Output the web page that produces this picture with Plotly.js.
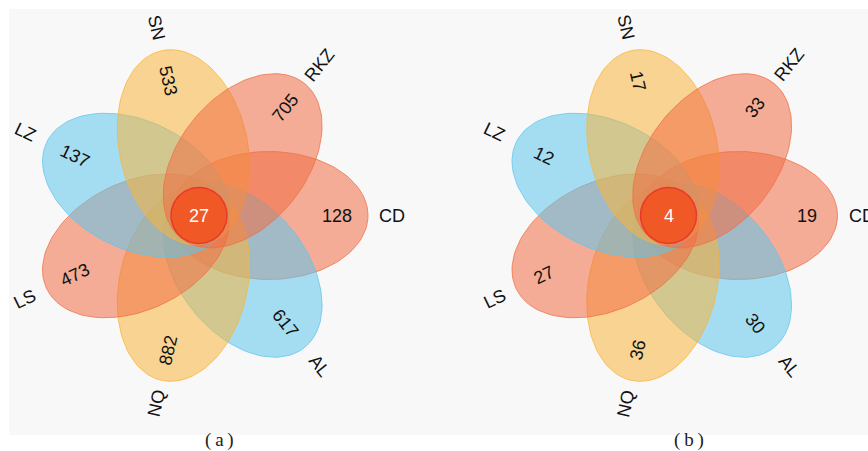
<!DOCTYPE html>
<html>
<head>
<meta charset="utf-8">
<script src="https://cdn.plot.ly/plotly-3.0.1.min.js"></script>
<style>html,body{margin:0;padding:0;background:#fff;}#chart{width:868px;height:451px;}</style>
</head>
<body>
<div id="chart"></div>
<script>
// ---- data ----
const sets = ['CD', 'RKZ', 'SN', 'LZ', 'LS', 'NQ', 'AL'];
const valuesA = [128, 705, 533, 137, 473, 882, 617];
const valuesB = [19, 33, 17, 12, 27, 36, 30];
const coreA = 27;
const coreB = 4;
const panelCaptions = ['(a)', '(b)'];

// ---- styling / geometry (not data) ----
const petalRGB = {
  CD: [240, 110, 70], RKZ: [240, 110, 70], LS: [240, 110, 70],
  SN: [248, 180, 60], NQ: [248, 180, 60],
  LZ: [95, 198, 236], AL: [95, 198, 236]
};
const drawOrder = ['CD', 'AL', 'NQ', 'LS', 'LZ', 'SN', 'RKZ'];
const geom = {d: 70, a: 99, b: 64, numR: 138, labR: 193, coreR: 28};
const panels = [
  {cx: 199, cy: 215.5, values: valuesA, core: coreA, caption: panelCaptions[0]},
  {cx: 668.5, cy: 215.5, values: valuesB, core: coreB, caption: panelCaptions[1]}
];

const traces = [];
const annotations = [];
const n = sets.length;
const step = 360 / n;
const font = {family: 'Liberation Sans, Arial, sans-serif', size: 18, color: '#111'};

panels.forEach(p => {
  drawOrder.forEach(s => {
    const i = sets.indexOf(s);
    const th = step * i * Math.PI / 180;
    const ecx = p.cx + geom.d * Math.cos(th);
    const ecy = p.cy - geom.d * Math.sin(th);
    const xs = [], ys = [];
    for (let k = 0; k <= 120; k++) {
      const t = 2 * Math.PI * k / 120;
      const lx = geom.a * Math.cos(t), ly = geom.b * Math.sin(t);
      const mx = lx * Math.cos(th) - ly * Math.sin(th);
      const my = lx * Math.sin(th) + ly * Math.cos(th);
      xs.push(ecx + mx); ys.push(ecy - my);
    }
    const c = petalRGB[s];
    traces.push({
      type: 'scatter', mode: 'lines', x: xs, y: ys, fill: 'toself',
      fillcolor: `rgba(${c[0]},${c[1]},${c[2]},0.55)`,
      line: {color: `rgba(${c[0]},${c[1]},${c[2]},0.75)`, width: 1},
      hoverinfo: 'skip', showlegend: false
    });
  });
  sets.forEach((s, i) => {
    const th = step * i * Math.PI / 180;
    const deg = step * i;
    const rot = (deg > 90 && deg < 270) ? deg - 180 : deg;
    annotations.push({
      x: p.cx + geom.numR * Math.cos(th), y: p.cy - geom.numR * Math.sin(th),
      xref: 'x', yref: 'y', text: String(p.values[i]), showarrow: false,
      textangle: -rot, xanchor: 'center', yanchor: 'middle', font: font
    });
    annotations.push({
      x: p.cx + geom.labR * Math.cos(th), y: p.cy - geom.labR * Math.sin(th),
      xref: 'x', yref: 'y', text: s, showarrow: false,
      textangle: -rot, xanchor: 'center', yanchor: 'middle', font: font
    });
  });
  // core circle
  const cxs = [], cys = [];
  for (let k = 0; k <= 90; k++) {
    const t = 2 * Math.PI * k / 90;
    cxs.push(p.cx + geom.coreR * Math.cos(t));
    cys.push(p.cy + geom.coreR * Math.sin(t));
  }
  traces.push({
    type: 'scatter', mode: 'lines', x: cxs, y: cys, fill: 'toself',
    fillcolor: 'rgb(240,88,38)', line: {color: 'rgb(232,58,40)', width: 1.5},
    hoverinfo: 'skip', showlegend: false
  });
  annotations.push({
    x: p.cx, y: p.cy, xref: 'x', yref: 'y', text: String(p.core), showarrow: false,
    xanchor: 'center', yanchor: 'middle',
    font: {family: 'Liberation Sans, Arial, sans-serif', size: 18, color: '#fff'}
  });
  annotations.push({
    x: p.cx + 20, y: 440, xref: 'x', yref: 'y', text: p.caption.split('').join('\u2009'), showarrow: false,
    xanchor: 'center', yanchor: 'middle',
    font: {family: 'Liberation Serif, Times New Roman, serif', size: 19, color: '#222'}
  });
});

const layout = {
  width: 868, height: 451,
  margin: {l: 0, r: 0, t: 0, b: 0},
  paper_bgcolor: '#ffffff', plot_bgcolor: 'rgba(0,0,0,0)',
  xaxis: {range: [0, 868], visible: false, fixedrange: true},
  yaxis: {range: [451, 0], visible: false, fixedrange: true},
  showlegend: false,
  shapes: [{type: 'rect', xref: 'x', yref: 'y', x0: 9, x1: 868, y0: 9, y1: 435,
            fillcolor: '#f8f8f8', line: {width: 0}, layer: 'below'}],
  annotations: annotations
};

Plotly.newPlot('chart', traces, layout, {staticPlot: true, displayModeBar: false});
</script>
</body>
</html>
